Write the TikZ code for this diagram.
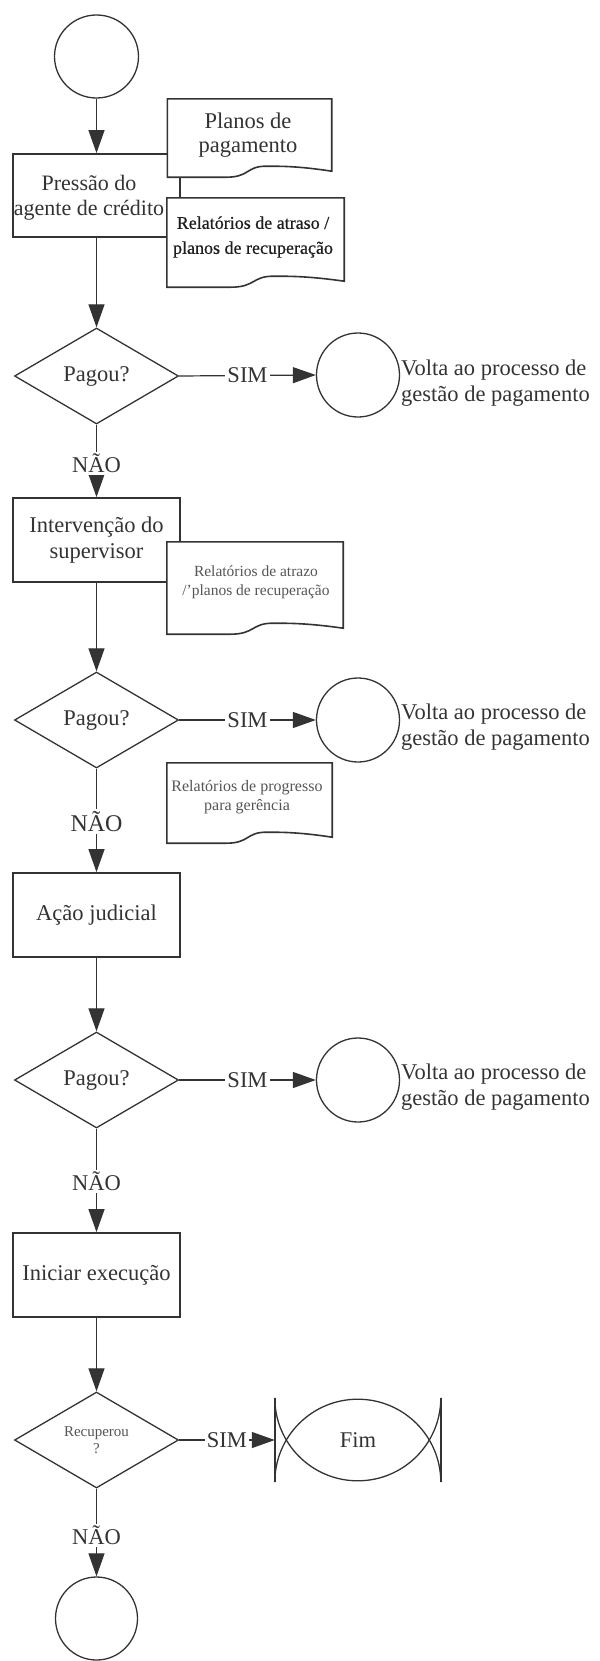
\documentclass[tikz,border=0pt]{standalone}
\usepackage{fontspec}
\setmainfont{Liberation Serif}
\usetikzlibrary{arrows.meta,shapes.geometric,calc}

\definecolor{ink}{HTML}{333333}
\definecolor{darkink}{HTML}{1E1E1E}
\definecolor{softink}{HTML}{555555}

\tikzset{
  x=1bp, y=1bp,
  every node/.style={text=ink, font=\fontsize{22.5bp}{26bp}\selectfont},
  procbox/.style={draw=ink, line width=1.8bp, fill=white, minimum width=167bp,
    minimum height=84bp, inner sep=0, align=center},
  decision/.style={draw=ink, line width=1.3bp, shape=diamond, aspect=1.7,
    minimum width=164bp, minimum height=96bp, inner sep=0, align=center},
  terminal/.style={draw=ink, line width=1.3bp, shape=ellipse,
    minimum width=83bp, minimum height=84bp, inner sep=0},
  docarea/.style={shape=rectangle, inner sep=0},
  docline/.style={draw=ink, line width=1.6bp, fill=white},
  flow/.style={draw=ink, line width=1.2bp, -{Triangle[length=23bp,width=16bp]}},
  answer/.style={fill=white, inner sep=2bp},
  sidenote/.style={anchor=west, align=left, inner sep=0},
  smallnote/.style={align=center, inner sep=0, text=softink,
    font=\fontsize{15.5bp}{19bp}\selectfont},
  fimbar/.style={draw=ink, line width=2bp},
  fimarc/.style={draw=ink, line width=1.3bp},
}

% document symbol: flat top, straight sides, wavy bottom edge
\newcommand\wavydoc[1]{%
  \draw[docline] let \p1=(#1.north west), \p2=(#1.south east), \n1={\x2-\x1} in
    (\x1,\y1) -- (\x2,\y1) -- (\x2,{\y2+6bp})
    .. controls ({\x1+0.8*\n1},{\y2+11bp}) and ({\x1+0.7*\n1},{\y2+11bp}) .. ({\x1+0.6*\n1},{\y2+11bp})
    .. controls ({\x1+0.48*\n1},{\y2+11bp}) and ({\x1+0.5*\n1},\y2) .. ({\x1+0.36*\n1},\y2)
    -- (\x1,\y2) -- cycle;%
}

\begin{document}
\begin{tikzpicture}
\useasboundingbox (0,0) rectangle (600,-1661);

% main column
\node[terminal, minimum width=84bp, minimum height=83bp] (start) at (96.5,-56.5) {};
\node[procbox, minimum height=83bp] (b1) at (96.5,-195.5) {};
\node[decision] (q1) at (96.5,-376) {Pagou?};
\node[procbox] (b2) at (96.5,-540) {Intervenção do\\supervisor};
\node[decision] (q2) at (96.5,-720) {Pagou?};
\node[procbox] (b3) at (96.5,-915) {Ação judicial};
\node[decision] (q3) at (96.5,-1080) {Pagou?};
\node[procbox] (b4) at (96.5,-1275) {Iniciar execução};
\node[decision, text=softink, font=\fontsize{15bp}{17bp}\selectfont] (q4) at (96.5,-1440)
  {Recuperou\\?};
\node[terminal, minimum width=82bp, minimum height=83bp] (stop) at (96.5,-1618.5) {};

% documents
\node[docarea, minimum width=164bp, minimum height=78bp] (d1) at (249.5,-138) {};
\node[docarea, minimum width=177bp, minimum height=89bp] (d2) at (255.5,-242.5) {};
\node[docarea, minimum width=176bp, minimum height=92bp] (d3) at (255,-588) {};
\node[docarea, minimum width=165bp, minimum height=80bp] (d4) at (249.5,-803) {};
\wavydoc{d1}
\wavydoc{d2}
\wavydoc{d3}
\wavydoc{d4}

% label of the first task, kept clear of the documents beside it
\node[align=center, inner sep=0, font=\fontsize{22bp}{25bp}\selectfont] (b1t) at (89,-197.5)
  {Pressão do\\agente de crédito};

\node[align=center, inner sep=0, font=\fontsize{22.5bp}{24bp}\selectfont] (d1t) at (248,-135)
  {Planos de\\pagamento};
\node[align=center, inner sep=0, text=darkink,
      font=\fontsize{18bp}{25bp}\selectfont\addfontfeatures{FakeBold=0.6}] (d2t) at (253,-237)
  {Relatórios de atraso /\\planos de recuperação};
\node[smallnote] (d3t) at (256,-582.5) {Relatórios de atrazo\\/'planos de recuperação};
\node[smallnote, font=\fontsize{16bp}{19bp}\selectfont] (d4t) at (247,-797.5)
  {Relatórios de progresso\\para gerência};

% return points
\node[terminal] (r1) at (358,-375) {};
\node[terminal] (r2) at (358,-720) {};
\node[terminal] (r3) at (358,-1080) {};
\node[sidenote] (r1t) at (401,-383) {Volta ao processo de\\gestão de pagamento};
\node[sidenote] (r2t) at (401,-727) {Volta ao processo de\\gestão de pagamento};
\node[sidenote] (r3t) at (401,-1087) {Volta ao processo de\\gestão de pagamento};

% end symbol
\node[inner sep=0, minimum width=166bp, minimum height=84bp] (fim) at (358,-1440) {Fim};
\draw[fimbar] (fim.north west) -- (fim.south west);
\draw[fimbar] (fim.north east) -- (fim.south east);
\draw[fimarc] (fim.south west) arc[start angle=180, end angle=0, radius=83bp];
\draw[fimarc] (fim.north west) arc[start angle=180, end angle=360, radius=83bp];

% connectors
\draw[flow] (start) -- (b1);
\draw[flow] (b1) -- (q1);
\draw[flow] (q1.south) -- node[answer, pos=0.53] {NÃO} (b2.north);
\draw[flow] (q1.east) -- node[answer] {SIM} (r1.west);
\draw[flow] (b2) -- (q2);
\draw[flow] (q2.south) -- node[answer, pos=0.51, font=\fontsize{24bp}{26bp}\selectfont] {NÃO} (b3.north);
\draw[flow] (q2.east) -- node[answer] {SIM} (r2.west);
\draw[flow] (b3) -- (q3);
\draw[flow] (q3.south) -- node[answer, pos=0.51] {NÃO} (b4.north);
\draw[flow] (q3.east) -- node[answer] {SIM} (r3.west);
\draw[flow] (b4) -- (q4);
\draw[flow] (q4.east) -- node[answer] {SIM} (fim.west);
\draw[flow] (q4.south) -- node[answer, pos=0.53] {NÃO} (stop.north);
\end{tikzpicture}
\end{document}
